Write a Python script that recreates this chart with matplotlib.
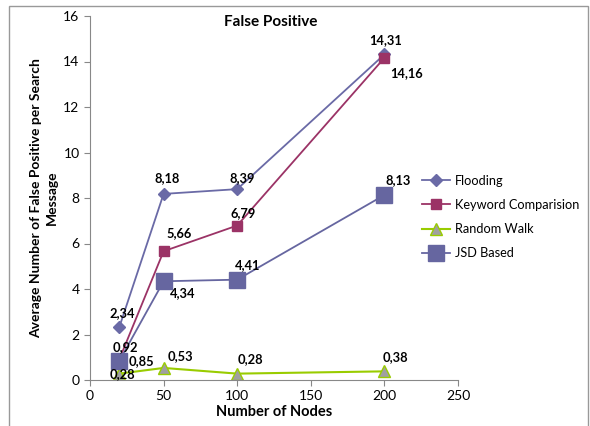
import matplotlib.pyplot as plt
from matplotlib.patches import Rectangle

plt.rcParams['font.family'] = ['Lato', 'DejaVu Sans']

nodes = [20, 50, 100, 200]
flooding = [2.34, 8.18, 8.39, 14.31]
keyword = [0.92, 5.66, 6.79, 14.16]
random_walk = [0.28, 0.53, 0.28, 0.38]
jsd = [0.85, 4.34, 4.41, 8.13]

# label offsets in pixels (dx, dy)
off_flood = [(3, 14), (4, 16), (5, 11), (1, 14)]
off_kw = [(6, 12), (15, 18), (6, 12), (22, -15)]
off_jsd = [(22, 0), (19, -12), (10, 15), (14, 15)]
off_rw = [(3, 0), (17, 12), (13, 15), (11, 14)]

fig = plt.figure(figsize=(5.9, 4.26), dpi=100)
ax = fig.add_axes([90/590, 1-380/426, 368/590, 364/426])

ax.plot(nodes, flooding, color='#6A6AA6', marker='D', markersize=6, lw=1.3, label='Flooding')
ax.plot(nodes, keyword, color='#9B3366', marker='s', markersize=7, lw=1.3, label='Keyword Comparision')
ax.plot(nodes, random_walk, color='#99CC00', marker='^', markersize=8, lw=1.5,
        markerfacecolor='#A0A0A0', markeredgecolor='#99CC00', label='Random Walk')
ax.plot(nodes, jsd, color='#6666A0', marker='s', markersize=12, lw=1.3, label='JSD Based')

def fmt(v):
    return f'{v:.2f}'.replace('.', ',')

for vals, offs in [(flooding, off_flood), (keyword, off_kw), (jsd, off_jsd), (random_walk, off_rw)]:
    for x, y, (dx, dy) in zip(nodes, vals, offs):
        ax.annotate(fmt(y), (x, y), xytext=(dx, dy), textcoords='offset pixels',
                    ha='center', va='center', fontsize=9.3, fontweight='bold')

ax.set_xlim(0, 250)
ax.set_ylim(0, 16)
ax.set_xticks(range(0, 251, 50))
ax.set_yticks(range(0, 17, 2))
for s in ['top', 'right']:
    ax.spines[s].set_visible(False)
for s in ['left', 'bottom']:
    ax.spines[s].set_color('#888888')
ax.tick_params(direction='out', length=4, color='#888888', labelsize=10)

ax.text(0.49, 0.984, 'False Positive', transform=ax.transAxes, ha='center', va='center',
        fontsize=11, fontweight='bold')
ax.set_xlabel('Number of Nodes', fontsize=10.5, fontweight='bold', labelpad=2)
ax.set_ylabel('Average Number of False Positive per Search\nMessage', fontsize=10,
              fontweight='bold', labelpad=4, linespacing=1.4)

fig.legend(loc='center left', bbox_to_anchor=(422/590, 1-217/426), frameon=False,
           fontsize=9.2, handlelength=2.2, labelspacing=0.95, handletextpad=0.35,
           borderaxespad=0, borderpad=0)

fig.patches.append(Rectangle((9/590, -0.05), 579/590, 1.05 - 6/426, transform=fig.transFigure,
                             fill=False, edgecolor='#999999', lw=1))

fig.savefig('out.png', dpi=100)
